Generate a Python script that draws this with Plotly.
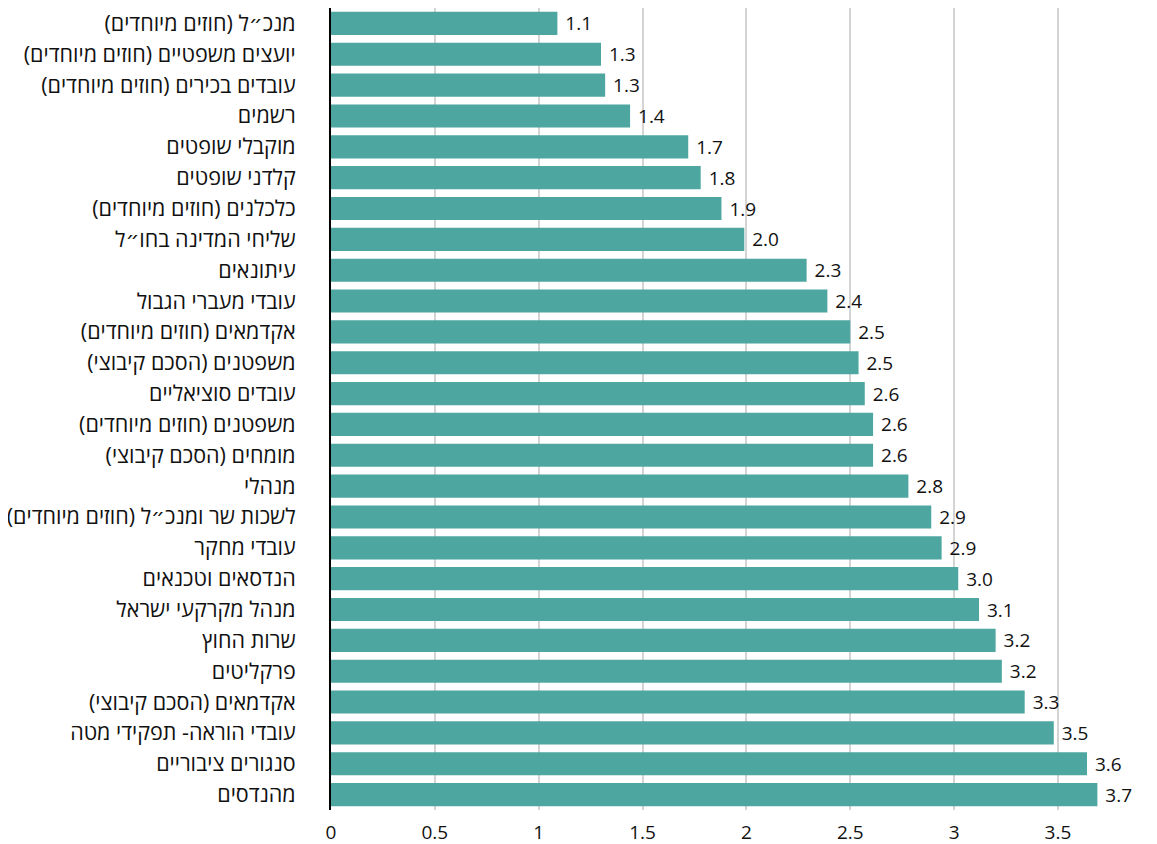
import plotly.graph_objects as go

categories = [
    "מנכ״ל (חוזים מיוחדים)",
    "יועצים משפטיים (חוזים מיוחדים)",
    "עובדים בכירים (חוזים מיוחדים)",
    "רשמים",
    "מוקבלי שופטים",
    "קלדני שופטים",
    "כלכלנים (חוזים מיוחדים)",
    "שליחי המדינה בחו״ל",
    "עיתונאים",
    "עובדי מעברי הגבול",
    "אקדמאים (חוזים מיוחדים)",
    "משפטנים (הסכם קיבוצי)",
    "עובדים סוציאליים",
    "משפטנים (חוזים מיוחדים)",
    "מומחים (הסכם קיבוצי)",
    "מנהלי",
    "לשכות שר ומנכ״ל (חוזים מיוחדים)",
    "עובדי מחקר",
    "הנדסאים וטכנאים",
    "מנהל מקרקעי ישראל",
    "שרות החוץ",
    "פרקליטים",
    "אקדמאים (הסכם קיבוצי)",
    "עובדי הוראה- תפקידי מטה",
    "סנגורים ציבוריים",
    "מהנדסים",
]
values = [1.09, 1.30, 1.32, 1.44, 1.72, 1.78, 1.88, 1.99, 2.29, 2.39, 2.50, 2.54, 2.57, 2.61, 2.61,
          2.78, 2.89, 2.94, 3.02, 3.12, 3.20, 3.23, 3.34, 3.48, 3.64, 3.69]

tick_vals = [0, 0.5, 1, 1.5, 2, 2.5, 3, 3.5]
tick_text = ["0", "0.5", "1", "1.5", "2", "2.5", "3", "3.5"]

FONT = "Open Sans, Noto Sans, DejaVu Sans, sans-serif"

fig = go.Figure(go.Bar(
    x=values,
    y=categories,
    orientation="h",
    marker=dict(color="#4da6a0", line=dict(width=0)),
    texttemplate="\u00a0%{x:.1f}",
    textposition="outside",
    textfont=dict(size=19, color="#111111", family=FONT),
    cliponaxis=False,
))

fig.update_layout(
    width=1149,
    height=836,
    margin=dict(l=323, r=0, t=0, b=34, autoexpand=False),
    paper_bgcolor="white",
    plot_bgcolor="white",
    bargap=0.25,
    showlegend=False,
    font=dict(family=FONT, color="#111111"),
    uniformtext=dict(minsize=19, mode="show"),
)
fig.update_xaxes(
    range=[0, 3.977],
    tickvals=tick_vals,
    ticktext=tick_text,
    showgrid=True,
    gridcolor="#d4d4d4",
    gridwidth=2,
    zeroline=False,
    showline=False,
    tickfont=dict(size=19, color="#111111"),
    ticks="",
    ticklen=0,
    ticklabelstandoff=9,
    automargin=False,
)
fig.update_yaxes(
    autorange="reversed",
    showline=True,
    linecolor="#000000",
    linewidth=2,
    ticks="",
    ticklabelstandoff=29,
    tickfont=dict(size=21.5, color="#111111"),
    automargin=False,
)

fig.write_html("out.html")
